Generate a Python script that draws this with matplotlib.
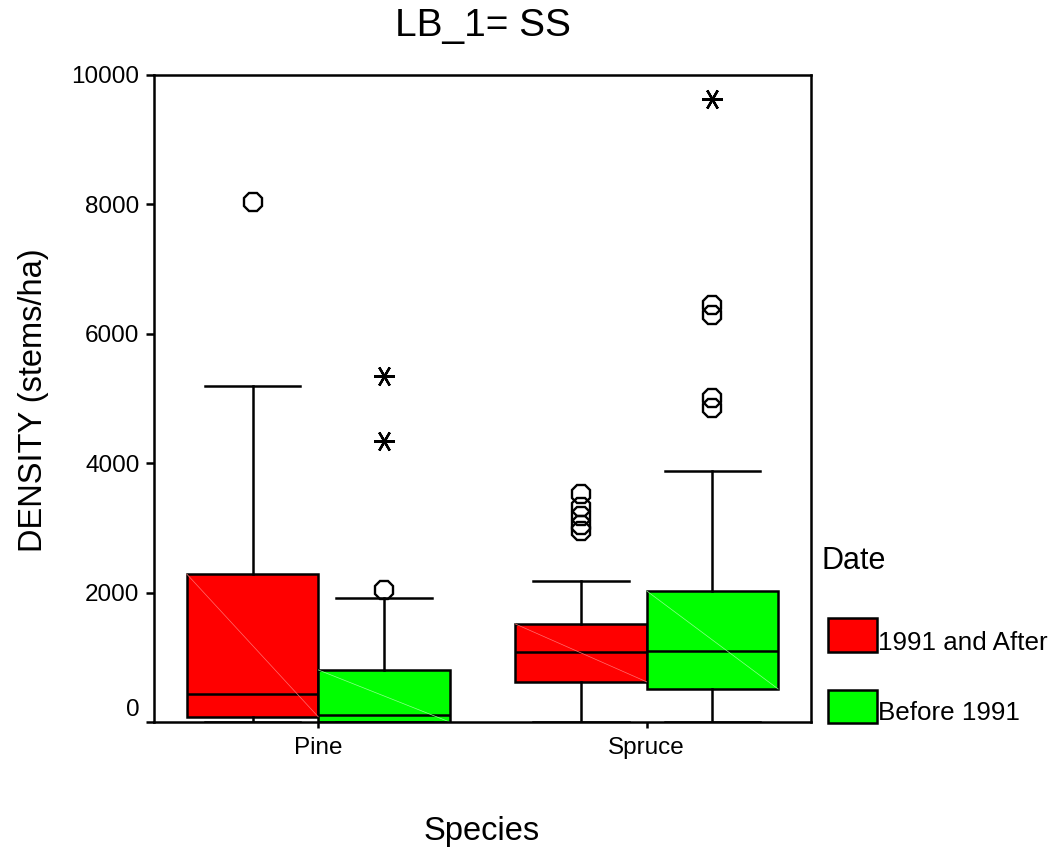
import matplotlib
matplotlib.use("Agg")
import matplotlib.pyplot as plt
from matplotlib.patches import Rectangle
from matplotlib.transforms import ScaledTranslation

plt.rcParams['font.family'] = ['Liberation Sans', 'DejaVu Sans']

# box summaries per species, one list per Date group
species = ["Pine", "Spruce"]
groups = ["1991 and After", "Before 1991"]
colors = ["#ff0000", "#00ff00"]

q1 = [[80, 620], [0, 510]]
med = [[430, 1085], [105, 1090]]
q3 = [[2285, 1515], [805, 2025]]
whislo = [[0, 0], [0, 0]]
whishi = [[5190, 2180], [1920, 3880]]

# outliers (circles) and extremes (stars)
outliers = [[[8040], [3520, 3330, 3190, 3040, 2950]],
            [[2040], [6450, 6290, 5000, 4850]]]
extremes = [[[], []],
            [[5355, 4350], [9635]]]

W, H = 1054, 848
fig = plt.figure(figsize=(W / 100, H / 100), dpi=100)
ax = fig.add_axes([154 / W, 1 - 722 / H, 657 / W, 647 / H])

def fpos(x, y):
    return x / W, 1 - y / H

LW = 1.8
offsets = [-0.2, 0.2]
for g in range(2):
    stats = []
    for s in range(2):
        stats.append(dict(med=med[g][s], q1=q1[g][s], q3=q3[g][s],
                          whislo=whislo[g][s], whishi=whishi[g][s], fliers=[]))
    pos = [s + offsets[g] for s in range(2)]
    ax.bxp(stats, positions=pos, widths=0.4, capwidths=0.29, patch_artist=True,
           showfliers=False,
           boxprops=dict(facecolor=colors[g], edgecolor='black', linewidth=LW),
           medianprops=dict(color='black', linewidth=LW),
           whiskerprops=dict(color='black', linewidth=LW),
           capprops=dict(color='black', linewidth=LW))
    # faint diagonal across each box
    light = '#ff7070' if g == 0 else '#90ff90'
    for s in range(2):
        ax.plot([pos[s] - 0.2, pos[s] + 0.2], [q3[g][s], q1[g][s]],
                color=light, lw=0.5, zorder=2.5)
    for s in range(2):
        if outliers[g][s]:
            ax.plot([pos[s]] * len(outliers[g][s]), outliers[g][s], linestyle='none',
                    marker='8', markersize=14, markerfacecolor='none',
                    markeredgecolor='black', markeredgewidth=1.7)
        if extremes[g][s]:
            ax.plot([pos[s]] * len(extremes[g][s]), extremes[g][s], linestyle='none',
                    marker=(6, 2, 90), markersize=15, color='black',
                    markeredgewidth=1.7)

ax.set_xlim(-0.5, 1.5)
ax.set_ylim(0, 10000)
ax.set_yticks([0, 2000, 4000, 6000, 8000, 10000])
ax.set_xticks([0, 1])
ax.set_xticklabels(species)
ax.tick_params(axis='y', length=5.5, width=LW, pad=5, labelsize=17.5)
ax.tick_params(axis='x', length=4.5, width=LW, pad=6, labelsize=17.5)
for sp in ax.spines.values():
    sp.set_linewidth(LW)

# the 0 label sits a bit above its tick
lab0 = ax.get_yticklabels()[0]
lab0.set_transform(lab0.get_transform() + ScaledTranslation(0, 0.14, fig.dpi_scale_trans))

fig.text(*fpos(483, 36), "LB_1= SS", fontsize=28, ha='center', va='baseline')
fig.text(*fpos(482, 840), "Species", fontsize=23.5, ha='center', va='baseline')
fig.text(*fpos(42, 400), "DENSITY (stems/ha)", fontsize=23.5, rotation=90,
         rotation_mode='anchor', ha='center', va='baseline')

# legend
fig.text(*fpos(822, 569), "Date", fontsize=22, ha='left', va='baseline')
patch_rows = [(618, 652, 650), (690, 723, 720)]
for g, (top, bot, base) in enumerate(patch_rows):
    x0, y0 = fpos(828, bot)
    fig.patches.append(Rectangle((x0, y0), 49 / W, (bot - top) / H,
                                 transform=fig.transFigure, facecolor=colors[g],
                                 edgecolor='black', linewidth=LW))
    fig.text(*fpos(878, base), groups[g], fontsize=18.7, ha='left', va='baseline')

fig.savefig("out.png", dpi=100)
